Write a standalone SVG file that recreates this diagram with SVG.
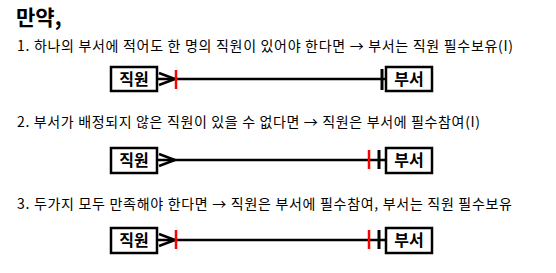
<svg xmlns="http://www.w3.org/2000/svg" width="556" height="273" viewBox="0 0 556 273">
<style>
.t{font-family:"Noto Sans CJK KR","Noto Sans",sans-serif;font-size:14px;fill:#000}
.h{font-family:"Noto Sans CJK KR","Noto Sans",sans-serif;font-size:21px;font-weight:bold;fill:#000}
.box{fill:#fff;stroke:#000;stroke-width:2.5}
.bl{font-family:"Noto Sans CJK KR","Noto Sans",sans-serif;font-size:16px;font-weight:bold;fill:#000;text-anchor:middle}
.ln{stroke:#000;stroke-width:2.5;fill:none}
.red{stroke:#f00;stroke-width:2.5}
.blk{stroke:#000;stroke-width:3}
</style>
<rect width="556" height="273" fill="#fff"/>
<text class="h" x="16" y="25">만약,</text>
<text class="t" x="17" y="51" textLength="496" lengthAdjust="spacing">1. 하나의 부서에 적어도 한 명의 직원이 있어야 한다면 → 부서는 직원 필수보유(I)</text>
<text class="t" x="17" y="127" textLength="463" lengthAdjust="spacing">2. 부서가 배정되지 않은 직원이 있을 수 없다면 → 직원은 부서에 필수참여(I)</text>
<text class="t" x="17" y="209" textLength="495" lengthAdjust="spacing">3. 두가지 모두 만족해야 한다면 → 직원은 부서에 필수참여, 부서는 직원 필수보유</text>
<g id="connectors">
<line class="ln" x1="157" y1="79" x2="386" y2="79"/>
<polyline class="ln" points="159,73 175,79 159,85"/>
<line class="red" x1="176" y1="70" x2="176" y2="89"/>
<line class="blk" x1="382" y1="69" x2="382" y2="90"/>
<line class="ln" x1="157" y1="160" x2="385" y2="160"/>
<polyline class="ln" points="159,154 175,160 159,166"/>
<line class="red" x1="369" y1="150" x2="369" y2="169"/>
<line class="blk" x1="379" y1="150" x2="379" y2="169"/>
<line class="ln" x1="157" y1="240" x2="385" y2="240"/>
<polyline class="ln" points="159,234 175,240 159,246"/>
<line class="red" x1="176" y1="230" x2="176" y2="249"/>
<line class="red" x1="369" y1="230" x2="369" y2="249"/>
<line class="blk" x1="379" y1="230" x2="379" y2="249"/>
</g>
<g id="emp1"><rect class="box" x="111" y="67" width="46" height="24"/><text class="bl" x="134" y="85">직원</text></g>
<g id="dept1"><rect class="box" x="386" y="67" width="46" height="24"/><text class="bl" x="409" y="85">부서</text></g>
<g id="emp2"><rect class="box" x="111" y="148" width="46" height="25"/><text class="bl" x="134" y="166">직원</text></g>
<g id="dept2"><rect class="box" x="386" y="148" width="46" height="25"/><text class="bl" x="409" y="166">부서</text></g>
<g id="emp3"><rect class="box" x="111" y="228" width="46" height="25"/><text class="bl" x="134" y="246">직원</text></g>
<g id="dept3"><rect class="box" x="386" y="228" width="46" height="25"/><text class="bl" x="409" y="246">부서</text></g>
</svg>
